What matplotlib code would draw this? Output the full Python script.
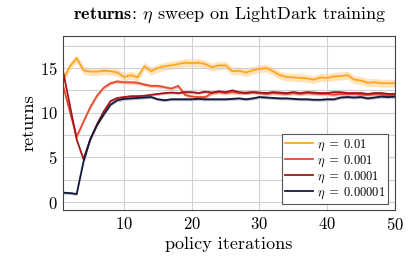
import numpy as np
import matplotlib
matplotlib.use('Agg')
import matplotlib.pyplot as plt
from matplotlib.ticker import MultipleLocator

plt.rcParams['font.family'] = 'serif'
plt.rcParams['font.serif'] = ['cmr10']
plt.rcParams['mathtext.fontset'] = 'cm'
plt.rcParams['axes.formatter.use_mathtext'] = True

# values, one per policy iteration (1..50)
iters = np.arange(1, 51)
ret_01 = [13.7, 15.2, 16.1, 14.75, 14.6, 14.6, 14.7, 14.65, 14.5, 14.0,
          14.2, 13.95, 15.2, 14.65, 15.0, 15.2, 15.3, 15.45, 15.6, 15.55,
          15.6, 15.45, 15.1, 15.3, 15.3, 14.65, 14.7, 14.5, 14.75, 14.9,
          15.0, 14.65, 14.2, 14.0, 13.95, 13.9, 13.85, 13.7, 13.95, 13.9,
          14.05, 14.1, 14.2, 13.7, 13.6, 13.35, 13.4, 13.3, 13.3, 13.3]
ret_001 = [13.0, 10.1, 7.3, 9.0, 10.6, 11.9, 12.8, 13.3, 13.5, 13.4,
           13.4, 13.35, 13.15, 13.0, 13.0, 12.85, 12.7, 13.0, 12.0, 11.8,
           11.75, 11.75, 12.2, 12.3, 12.2, 12.3, 12.2, 12.25, 12.3, 12.2,
           12.1, 12.2, 12.15, 12.1, 12.2, 12.1, 12.2, 12.15, 12.1, 12.1,
           12.0, 12.1, 12.05, 12.1, 12.0, 12.0, 12.05, 12.0, 11.95, 12.0]
ret_0001 = [14.6, 10.8, 7.0, 4.8, 7.0, 8.7, 10.15, 11.3, 11.65, 11.75,
            11.85, 11.85, 11.9, 12.0, 12.1, 12.2, 12.25, 12.2, 12.3, 12.3,
            12.2, 12.35, 12.25, 12.4, 12.3, 12.5, 12.3, 12.2, 12.3, 12.25,
            12.2, 12.3, 12.25, 12.2, 12.3, 12.2, 12.3, 12.25, 12.2, 12.2,
            12.3, 12.3, 12.2, 12.2, 12.2, 12.1, 12.2, 12.2, 12.1, 12.1]
ret_00001 = [1.05, 1.0, 0.9, 4.5, 7.0, 8.6, 9.8, 10.9, 11.4, 11.55,
             11.6, 11.65, 11.7, 11.75, 11.5, 11.4, 11.5, 11.5, 11.5, 11.5,
             11.55, 11.5, 11.5, 11.5, 11.5, 11.55, 11.6, 11.5, 11.6, 11.75,
             11.7, 11.65, 11.6, 11.6, 11.55, 11.5, 11.5, 11.45, 11.45, 11.5,
             11.5, 11.7, 11.75, 11.7, 11.75, 11.6, 11.7, 11.8, 11.75, 11.8]
band_w = [0.45, 0.2, 0.15, 0.15]
labels = [r'$\eta\;=\;0.01$', r'$\eta\;=\;0.001$', r'$\eta\;=\;0.0001$', r'$\eta\;=\;0.00001$']
colors = ['#ffa51f', '#e64a2a', '#a3151c', '#15193a']

fig = plt.figure(figsize=(4.1, 2.6), dpi=100)
ax = fig.add_axes([0.154, 0.192, 0.809, 0.670])
for y, w, lab, c in zip([ret_01, ret_001, ret_0001, ret_00001], band_w, labels, colors):
    y = np.array(y)
    ax.fill_between(iters, y - w, y + w, color=c, alpha=0.3, lw=0)
    ax.plot(iters, y, color=c, lw=1.3, label=lab)

ax.set_xlim(1, 50)
ax.set_ylim(-0.9, 18.6)
ax.set_xticks([10, 20, 30, 40, 50])
ax.set_yticks([0, 5, 10, 15])
ax.yaxis.set_minor_locator(MultipleLocator(2.5))
ax.grid(True, which='major', color='#d0d0d0', lw=0.8)
ax.grid(True, which='minor', axis='y', color='#d0d0d0', lw=0.8)
ax.tick_params(which='both', length=0, labelsize=12, pad=4)
for s in ax.spines.values():
    s.set_color('#444444'); s.set_linewidth(0.8)
ax.set_xlabel('policy iterations', fontsize=13, labelpad=3)
ax.set_ylabel('returns', fontsize=13, labelpad=2)
ax.set_title(r'$\mathbf{returns}$: $\eta$ sweep on LightDark training', fontsize=13, pad=12)
leg = ax.legend(loc='lower right', bbox_to_anchor=(0.98, 0.035), borderaxespad=0, fontsize=9,
                fancybox=False, framealpha=1, edgecolor='#555555',
                handlelength=2.2, handletextpad=0.3, borderpad=0.25, labelspacing=0.05)
leg.get_frame().set_linewidth(0.8)
fig.savefig('out.png', dpi=100)
